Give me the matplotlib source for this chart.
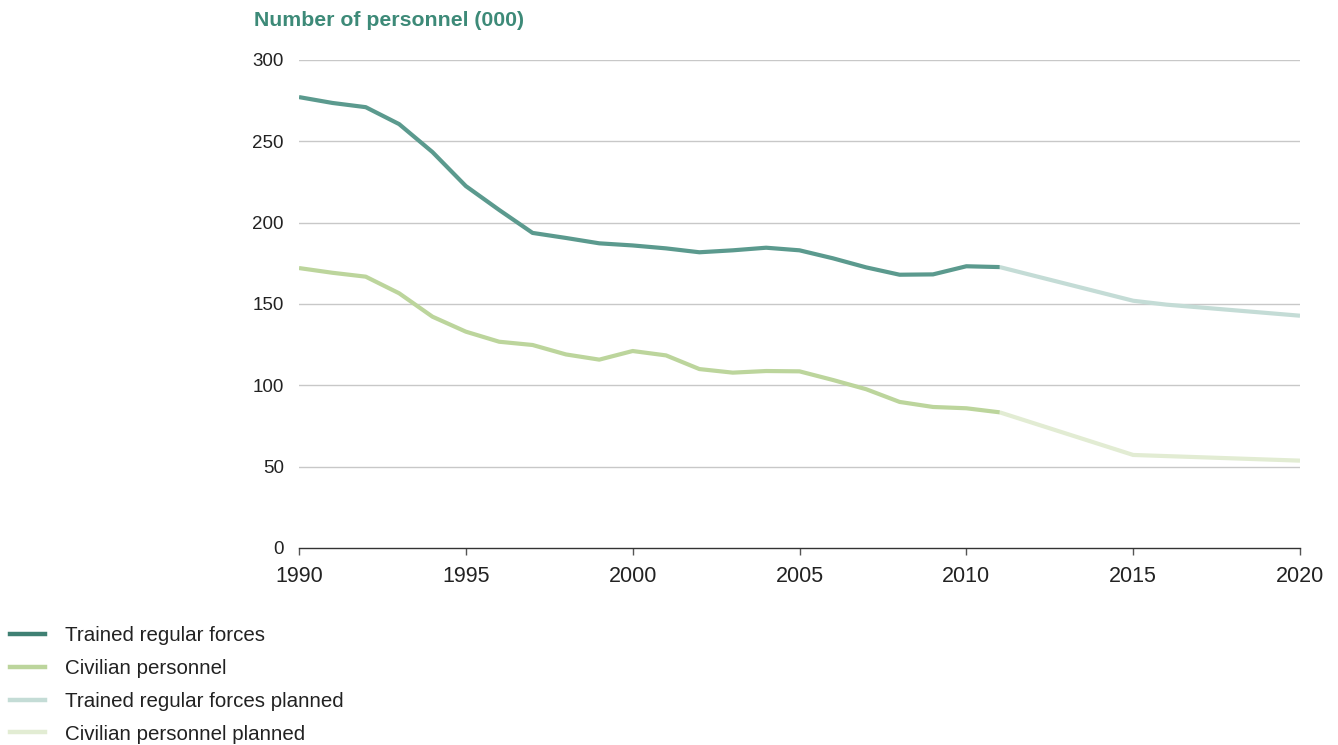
import matplotlib
matplotlib.use("Agg")
import matplotlib.pyplot as plt
from matplotlib.lines import Line2D

plt.rcParams['font.family'] = ['Liberation Sans', 'DejaVu Sans']

years = list(range(1990, 2012))
trained = [277.2, 273.6, 271.0, 260.6, 243.4, 222.5, 207.8, 193.7, 190.6, 187.3,
           186.0, 184.2, 181.8, 183.0, 184.6, 183.0, 178.1, 172.5, 168.0, 168.2,
           173.2, 172.7]
civilian = [172.1, 169.2, 166.8, 156.6, 142.2, 133.0, 126.8, 124.8, 119.0, 115.8,
            121.1, 118.4, 110.0, 107.8, 108.8, 108.6, 103.3, 97.6, 89.8, 86.7,
            85.9, 83.4]
planned_years = [2011, 2015, 2016, 2020]
trained_planned = [172.7, 152.0, 149.6, 142.8]
civilian_planned = [83.4, 57.2, 56.5, 53.7]

labels = ["Trained regular forces", "Civilian personnel",
          "Trained regular forces planned", "Civilian personnel planned"]
colors = ["#5b9a8e", "#bcd59c", "#c4dcd6", "#e2ecd3"]
legend_colors = ["#3f8073", "#bcd59c", "#c4dcd6", "#e2ecd3"]
title = "Number of personnel (000)"
yticks = [0, 50, 100, 150, 200, 250, 300]
xticks = [1990, 1995, 2000, 2005, 2010, 2015, 2020]

fig = plt.figure(figsize=(13.38, 7.45), dpi=100)
ax = fig.add_axes([299/1338, 1-548/745, (1300-299)/1338, (548-60)/745])

lw = 3.0
ax.plot(planned_years, trained_planned, color=colors[2], lw=lw, solid_capstyle='butt', zorder=3)
ax.plot(planned_years, civilian_planned, color=colors[3], lw=lw, solid_capstyle='butt', zorder=3)
ax.plot(years, trained, color=colors[0], lw=lw, solid_capstyle='butt', solid_joinstyle='round', zorder=4)
ax.plot(years, civilian, color=colors[1], lw=lw, solid_capstyle='butt', solid_joinstyle='round', zorder=4)

ax.set_xlim(1990, 2020)
ax.set_ylim(0, 300)
ax.set_yticks(yticks)
ax.set_xticks(xticks)
ax.set_xticklabels([str(x) for x in xticks])
for y in yticks[1:]:
    ax.axhline(y, color="#c8c8c8", lw=1.0, zorder=1)
for s in ["top", "right", "left"]:
    ax.spines[s].set_visible(False)
ax.spines["bottom"].set_color("#333333")
ax.spines["bottom"].set_linewidth(1.0)
ax.tick_params(axis='y', length=0, pad=11, labelsize=13.5, labelcolor="#222222")
ax.tick_params(axis='x', length=5, width=1.0, color="#555555", pad=8, labelsize=15.5, labelcolor="#222222")

fig.text(254/1338, 1-21/745, title, color="#3d8a78", fontsize=15.3, fontweight='bold',
         ha='left', va='center')

handles = [Line2D([0], [0], color=c, lw=3.2) for c in legend_colors]
fig.legend(handles, labels, loc='upper left', bbox_to_anchor=(0.0005, 1-617/745),
           frameon=False, fontsize=14.8, handlelength=1.7, handletextpad=1.0,
           labelspacing=0.67, borderaxespad=0, borderpad=0.45, labelcolor="#222222")

fig.savefig("out.png", dpi=100)
